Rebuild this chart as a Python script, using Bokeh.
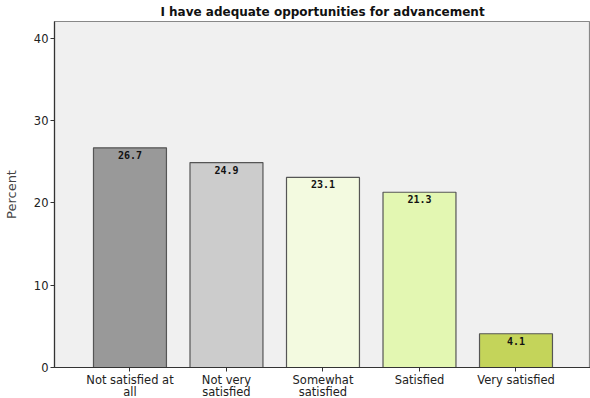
from bokeh.plotting import figure
from bokeh.models import ColumnDataSource, FixedTicker, Range1d, Title
from bokeh.embed import file_html
from bokeh.resources import INLINE

categories = ["Not satisfied at\nall", "Not very\nsatisfied", "Somewhat\nsatisfied", "Satisfied", "Very satisfied"]
percents = [26.7, 24.9, 23.1, 21.3, 4.1]
colors = ["#999999", "#cccccc", "#f3fae0", "#e3f7b2", "#c4d45a"]
y_ticks = [0, 10, 20, 30, 40]

xs = list(range(len(categories)))
src = ColumnDataSource(dict(x=xs, top=percents, color=colors,
                            label=[f"{v:.1f}" for v in percents]))

p = figure(frame_width=536, frame_height=346, output_backend="svg", toolbar_location=None,
           x_range=Range1d(-0.782, 4.772), y_range=Range1d(0, 42.05),
           min_border_left=45, min_border_right=0, min_border_top=0, min_border_bottom=0)
p.add_layout(Title(text="I have adequate opportunities for advancement", align="center",
                   text_font="DejaVu Sans", text_font_size="12px", text_font_style="bold",
                   text_color="#111111", standoff=5), "above")

p.vbar(x="x", top="top", width=0.756, bottom=0, fill_color="color",
       line_color="#555555", line_width=1.2, source=src)
p.text(x="x", y="top", text="label", source=src, text_align="center", text_baseline="top",
       y_offset=3, text_font={"value": "DejaVu Sans Mono"}, text_font_style="bold",
       text_font_size="10px", text_color="#111111")

p.background_fill_color = "#f0f0f0"
p.border_fill_color = "white"
p.outline_line_color = "#888888"
p.outline_line_width = 1.2
p.xgrid.visible = False
p.ygrid.visible = False

p.yaxis.ticker = FixedTicker(ticks=y_ticks)
p.yaxis.axis_label = "Percent"
p.yaxis.axis_label_text_font = "DejaVu Sans"
p.yaxis.axis_label_text_font_style = "normal"
p.yaxis.axis_label_text_font_size = "13px"
p.yaxis.axis_label_standoff = 12

p.xaxis.ticker = FixedTicker(ticks=xs)
p.xaxis.major_label_overrides = {i: c for i, c in enumerate(categories)}

for ax in (p.xaxis, p.yaxis):
    ax.axis_line_color = "#333333"
    ax.axis_line_width = 1.2
    ax.major_tick_line_color = "#333333"
    ax.major_tick_in = 0
    ax.major_tick_out = 4
    ax.minor_tick_line_color = None
    ax.major_label_text_font = "DejaVu Sans"
    ax.major_label_text_font_size = "11.5px"
    ax.major_label_text_color = "#222222"
    ax.major_label_standoff = 1

p.yaxis.major_label_standoff = 2
p.xaxis.major_label_text_line_height = 0.88

open("out.html", "w").write(file_html(p, INLINE))
